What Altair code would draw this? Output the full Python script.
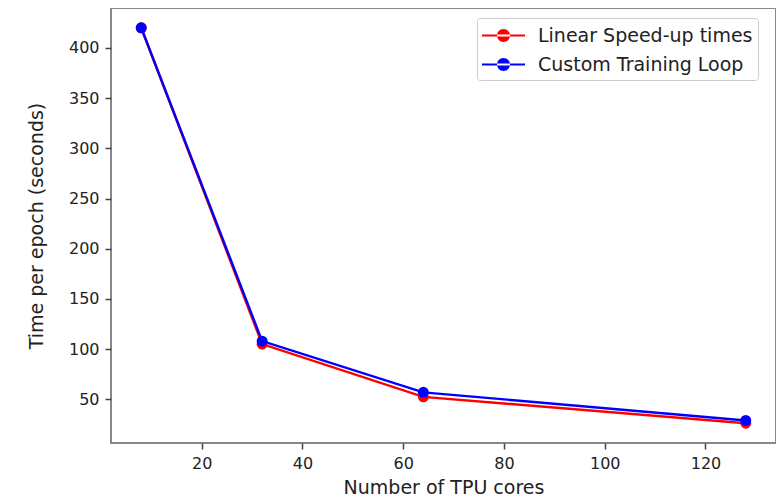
import altair as alt
import pandas as pd

cores = [8, 32, 64, 128]
linear_speedup = [420, 105, 52.5, 26.25]
custom_loop = [420, 108, 57, 29]
series_names = ["Linear Speed-up times", "Custom Training Loop"]
colors = ["#ff0000", "#0000ff"]

rows = []
for i, (name, vals) in enumerate(zip(series_names, [linear_speedup, custom_loop])):
    for c, v in zip(cores, vals):
        rows.append({"cores": c, "time": v, "series": name, "order": i})
df = pd.DataFrame(rows)

# line with a dot, scaled by sqrt(size)/2 = 12.5 px per unit
legend_path = ("M-1,-0.08H2.44V0.08H-1Z "
               "M0.2,0A0.52,0.52 0 1,0 1.24,0A0.52,0.52 0 1,0 0.2,0Z")

color = alt.Color(
    "series:N",
    scale=alt.Scale(domain=series_names, range=colors),
    legend=alt.Legend(
        title=None,
        orient="none",
        legendX=366,
        legendY=10,
        symbolType=legend_path,
        symbolSize=625,
        symbolStrokeWidth=0,
        symbolOpacity=1,
        labelFontSize=19,
        labelFont="DejaVu Sans",
        labelColor="#222",
        labelLimit=400,
        fillColor="white",
        strokeColor="#cccccc",
        cornerRadius=3,
        padding=5,
        rowPadding=6,
        labelOffset=31,
    ),
)

x = alt.X(
    "cores:Q",
    scale=alt.Scale(domain=[2, 134], nice=False, zero=False),
    axis=alt.Axis(values=[20, 40, 60, 80, 100, 120], title="Number of TPU cores",
                  grid=False),
)
y = alt.Y(
    "time:Q",
    scale=alt.Scale(domain=[6.56, 439.7], nice=False, zero=False),
    axis=alt.Axis(values=[50, 100, 150, 200, 250, 300, 350, 400],
                  title="Time per epoch (seconds)", grid=False),
)

base = alt.Chart(df).encode(x=x, y=y, color=color, order=alt.Order("order:Q"))

lines = base.mark_line(strokeWidth=2.4)
points = base.mark_circle(size=120, opacity=1)

chart = (
    alt.layer(lines, points)
    .properties(
        width=665,
        height=435,
        autosize=alt.AutoSizeParams(type="none"),
        padding={"left": 103, "top": 0, "right": 0, "bottom": 53},
    )
    .configure_view(stroke="#888888", strokeWidth=2)
    .configure_axis(
        labelFont="DejaVu Sans",
        titleFont="DejaVu Sans",
        labelFontSize=16,
        titleFontSize=19,
        titleFontWeight="normal",
        labelColor="#222",
        titleColor="#222",
        domain=False,
        tickColor="#444",
        tickSize=6,
        tickWidth=1.5,
    )
    .configure_axisY(titlePadding=22, labelPadding=6)
    .configure_axisX(titlePadding=7, labelPadding=6)
)

chart.save("out.html", embed_options={"renderer": "svg", "actions": False})
